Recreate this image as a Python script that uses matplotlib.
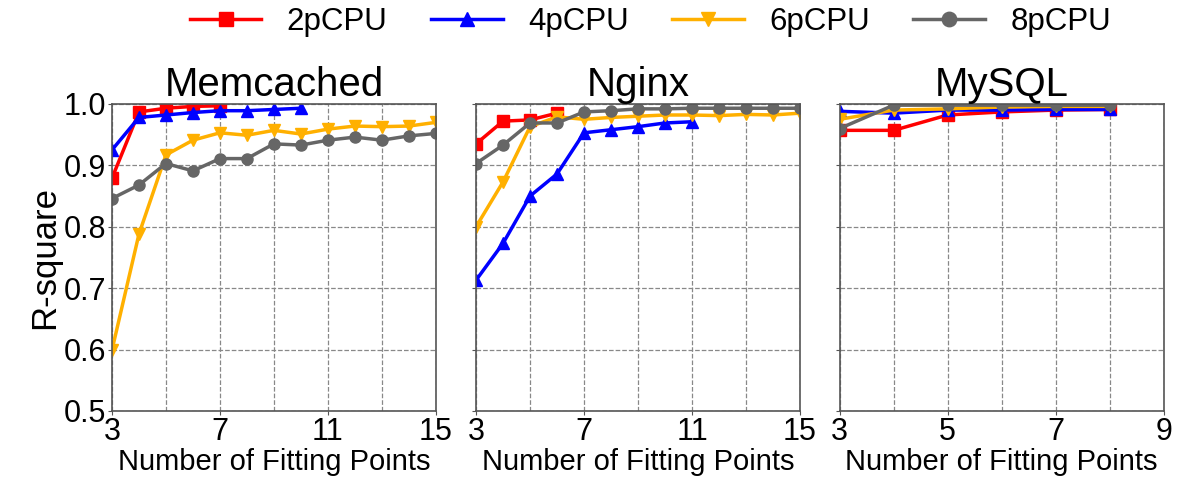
import matplotlib
matplotlib.use("Agg")
import matplotlib.pyplot as plt
from matplotlib.ticker import FixedLocator

plt.rcParams['font.family'] = ['Liberation Sans', 'DejaVu Sans']

series_names = ["2pCPU", "4pCPU", "6pCPU", "8pCPU"]
titles = ["Memcached", "Nginx", "MySQL"]

# Memcached
mem_2 = [0.879, 0.987, 0.993, 0.996, 0.997]
mem_4 = [0.925, 0.978, 0.982, 0.986, 0.989, 0.989, 0.991, 0.993]
mem_6 = [0.599, 0.788, 0.917, 0.941, 0.953, 0.949, 0.957, 0.951, 0.959, 0.964, 0.963, 0.964, 0.970]
mem_8 = [0.846, 0.868, 0.903, 0.891, 0.911, 0.911, 0.935, 0.933, 0.941, 0.946, 0.941, 0.948, 0.952]

# Nginx
ngx_2 = [0.935, 0.972, 0.974, 0.985]
ngx_4 = [0.713, 0.773, 0.850, 0.886, 0.953, 0.958, 0.963, 0.969, 0.971]
ngx_6 = [0.800, 0.873, 0.963, 0.979, 0.975, 0.978, 0.980, 0.982, 0.982, 0.981, 0.983, 0.982, 0.985]
ngx_8 = [0.903, 0.933, 0.969, 0.969, 0.987, 0.989, 0.992, 0.992, 0.993, 0.993, 0.993, 0.993, 0.993]

# MySQL
sql_2 = [0.957, 0.957, 0.982, 0.987, 0.990, 0.991]
sql_4 = [0.988, 0.985, 0.990, 0.990, 0.991, 0.991]
sql_6 = [0.975, 0.990, 0.992, 0.995, 0.996, 0.996]
sql_8 = [0.960, 0.998, 0.998, 0.998, 0.998, 0.998]

panels = [
    [mem_2, mem_4, mem_6, mem_8],
    [ngx_2, ngx_4, ngx_6, ngx_8],
    [sql_2, sql_4, sql_6, sql_8],
]
x_start = 3
xlims = [(3, 15), (3, 15), (3, 9)]
major_x = [[3, 7, 11, 15], [3, 7, 11, 15], [3, 5, 7, 9]]
minor_x = [[5, 9, 13], [5, 9, 13], [4, 6, 8]]
yticks = [0.5, 0.6, 0.7, 0.8, 0.9, 1.0]

colors = ["#FF0000", "#0000FF", "#FFB000", "#666666"]
markers = ["s", "^", "v", "o"]

fig = plt.figure(figsize=(11.91, 4.79), dpi=100)
lefts = [0.094, 0.3997, 0.705]
axes = [fig.add_axes([l, 0.142, 0.272, 0.641]) for l in lefts]

handles = []
for i, ax in enumerate(axes):
    for j, vals in enumerate(panels[i]):
        xs = list(range(x_start, x_start + len(vals)))
        h, = ax.plot(xs, vals, color=colors[j], marker=markers[j], lw=2.5,
                     markersize=8, label=series_names[j])
        if i == 0:
            handles.append(h)
    ax.set_xlim(*xlims[i])
    ax.set_ylim(0.5, 1.0)
    ax.xaxis.set_major_locator(FixedLocator(major_x[i]))
    ax.xaxis.set_minor_locator(FixedLocator(minor_x[i]))
    ax.set_yticks(yticks)
    ax.grid(True, which="both", axis="x", ls="--", color="#888888", lw=0.9)
    ax.grid(True, which="major", axis="y", ls="--", color="#888888", lw=0.9)
    ax.tick_params(axis="both", which="major", labelsize=22, length=3,
                   color="#555555", pad=1)
    ax.tick_params(axis="x", which="minor", length=0)
    for sp in ax.spines.values():
        sp.set_color("#555555")
        sp.set_linewidth(1.2)
    ax.set_title(titles[i], fontsize=29, pad=4)
    ax.set_xlabel("Number of Fitting Points", fontsize=21, labelpad=1)
    if i == 0:
        ax.set_ylabel("R-square", fontsize=25, labelpad=2)
        ax.set_yticklabels(["0.5", "0.6", "0.7", "0.8", "0.9", "1.0"])
    else:
        ax.set_yticklabels([])

fig.legend(handles=handles, loc="center", bbox_to_anchor=(0.546, 0.954),
           ncol=4, frameon=False, fontsize=22.5, handlelength=2.3,
           columnspacing=1.4, numpoints=1, handletextpad=0.8,
           markerscale=1.3)

fig.savefig("out.png", dpi=100)
